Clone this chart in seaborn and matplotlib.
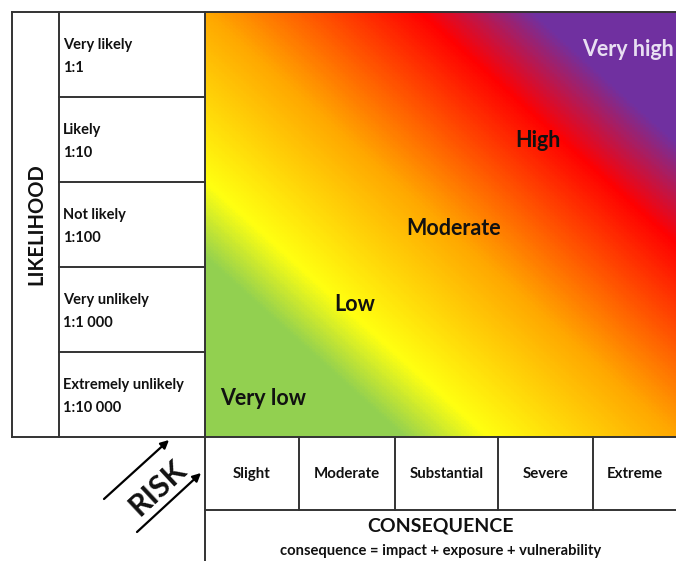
import numpy as np
import matplotlib
matplotlib.use("Agg")
import matplotlib.pyplot as plt
from matplotlib.colors import LinearSegmentedColormap
import seaborn as sns

# chart content
likelihood_labels = ["Very likely", "Likely", "Not likely", "Very unlikely", "Extremely unlikely"]
likelihood_ratios = ["1:1", "1:10", "1:100", "1:1 000", "1:10 000"]
consequence_labels = ["Slight", "Moderate", "Substantial", "Severe", "Extreme"]
risk_levels = ["Very low", "Low", "Moderate", "High", "Very high"]
risk_stops = [0.0, 0.21, 0.3, 0.5, 0.73, 0.85, 1.0]
risk_colors = ["#92D050", "#92D050", "#FFFF10", "#FFA800", "#FF0000", "#7030A0", "#7030A0"]

sns.set_theme(style="white")
plt.rcParams["font.family"] = ["Lato", "DejaVu Sans"]

W, H = 676, 561
fig = plt.figure(figsize=(W / 100, H / 100), dpi=100)

# layout in pixels
left, col1, gx0, gx1 = 12, 59, 205, 676
top, gy1, row2, bottom = 12, 437, 510, 561
row_h = (gy1 - top) / len(likelihood_labels)
col_edges = [205, 299, 395, 498, 593, 676]

# smooth diagonal gradient drawn as a heatmap
n = 300
u = np.linspace(0, 1, n)
v = np.linspace(1, 0, n)
grid = (u[None, :] + v[:, None]) / 2
cmap = LinearSegmentedColormap.from_list("risk", list(zip(risk_stops, risk_colors)))
hax = fig.add_axes([gx0 / W, (H - gy1) / H, (gx1 - gx0) / W, (gy1 - top) / H])
sns.heatmap(grid, cmap=cmap, vmin=0, vmax=1, cbar=False, ax=hax,
            xticklabels=False, yticklabels=False, rasterized=True)
hax.axis("off")
hax.set_zorder(0)

# overlay axes in pixel coordinates for lines and text
ax = fig.add_axes([0, 0, 1, 1])
ax.set_zorder(1)
ax.patch.set_alpha(0)
ax.set_xlim(0, W)
ax.set_ylim(H, 0)
ax.axis("off")

lc = "#333333"
lw = 1.4
def line(x0, y0, x1, y1):
    ax.plot([x0, x1], [y0, y1], color=lc, lw=lw, solid_capstyle="projecting", zorder=5)

# frame lines
line(left, top, gx1, top)
line(left, gy1, gx1, gy1)
line(left, top, left, gy1)
line(col1, top, col1, gy1)
line(gx0, top, gx0, bottom)
for i in range(1, len(likelihood_labels)):
    y = top + i * row_h
    line(col1, y, gx0, y)
line(gx0, row2, gx1, row2)
for x in col_edges[1:-1]:
    line(x, gy1, x, row2)

txt = "#111111"

# likelihood labels
for i, (lab, ratio) in enumerate(zip(likelihood_labels, likelihood_ratios)):
    y = top + i * row_h
    ax.text(63, y + 33, lab, fontsize=10.5, fontweight="bold", va="center", ha="left", color=txt)
    ax.text(63, y + 56, ratio, fontsize=10.5, fontweight="bold", va="center", ha="left", color=txt)
ax.text((left + col1) / 2 + 1, 224, "LIKELIHOOD", rotation=90, fontsize=14.5,
        fontweight="bold", ha="center", va="center", color=txt)

# consequence labels
for i, lab in enumerate(consequence_labels):
    xc = (col_edges[i] + col_edges[i + 1]) / 2
    ax.text(xc, 474, lab, fontsize=10.8, fontweight="bold", ha="center", va="center", color=txt)
ax.text((gx0 + gx1) / 2, 526, "CONSEQUENCE", fontsize=14, fontweight="bold",
        ha="center", va="center", color=txt)
ax.text((gx0 + gx1) / 2, 551, "consequence = impact + exposure + vulnerability", fontsize=10.6,
        fontweight="bold", ha="center", va="center", color=txt)

# risk level labels along the diagonal
label_pos = [(263, 398), (355, 304), (454, 228), (538, 140), (628, 49)]
label_col = [txt, txt, txt, txt, "#E8DFF2"]
for lab, (x, y), c in zip(risk_levels, label_pos, label_col):
    ax.text(x, y, lab, fontsize=15.5, fontweight="bold", ha="center", va="center", color=c, zorder=6)

# RISK arrows
arrow = dict(arrowstyle="-|>", lw=1.6, color="black", mutation_scale=12, shrinkA=0, shrinkB=0)
ax.annotate("", xy=(169, 440), xytext=(104, 499), arrowprops=arrow)
ax.annotate("", xy=(201, 473), xytext=(137, 532), arrowprops=arrow)
ax.text(158, 488, "RISK", rotation=43, rotation_mode="anchor", fontsize=22, fontweight="bold",
        ha="center", va="center", color=txt)

fig.savefig("out.png", dpi=100)
